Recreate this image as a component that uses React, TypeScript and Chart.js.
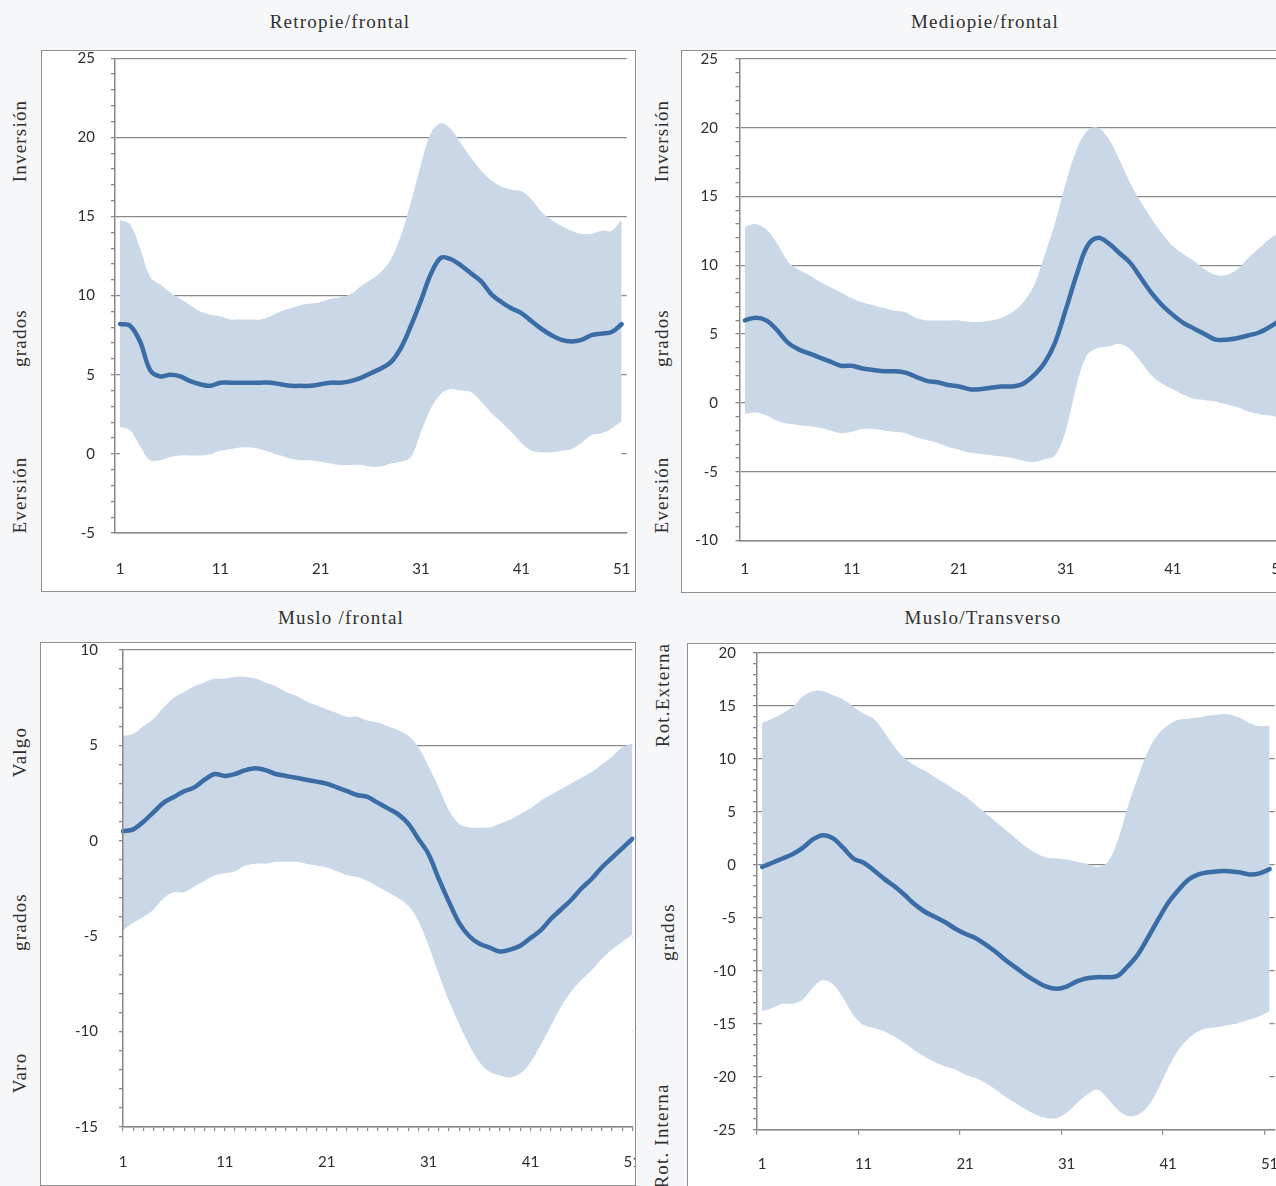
import React, { useEffect, useRef } from 'react';
import { Chart, registerables } from 'chart.js';

Chart.register(...registerables);

const categories = [
  '1', '2', '3', '4', '5', '6', '7', '8', '9', '10',
  '11', '12', '13', '14', '15', '16', '17', '18', '19', '20',
  '21', '22', '23', '24', '25', '26', '27', '28', '29', '30',
  '31', '32', '33', '34', '35', '36', '37', '38', '39', '40',
  '41', '42', '43', '44', '45', '46', '47', '48', '49', '50', '51',
];

const retropieMean = [8.2, 8.1, 7.1, 5.3, 4.9, 5.0, 4.9, 4.6, 4.4, 4.3, 4.5, 4.5, 4.5, 4.5, 4.5, 4.5, 4.4, 4.3, 4.3, 4.3, 4.4, 4.5, 4.5, 4.6, 4.8, 5.1, 5.4, 5.8, 6.7, 8.1, 9.7, 11.4, 12.4, 12.3, 11.9, 11.4, 10.9, 10.1, 9.6, 9.2, 8.9, 8.4, 7.9, 7.5, 7.2, 7.1, 7.2, 7.5, 7.6, 7.7, 8.2];
const retropieUpper = [14.8, 14.5, 13.0, 11.2, 10.7, 10.2, 9.8, 9.4, 9.0, 8.8, 8.7, 8.5, 8.5, 8.5, 8.5, 8.7, 9.0, 9.2, 9.4, 9.5, 9.6, 9.8, 9.9, 10.1, 10.6, 11.0, 11.5, 12.3, 13.8, 15.9, 18.3, 20.3, 20.9, 20.5, 19.6, 18.7, 17.9, 17.3, 16.9, 16.7, 16.6, 16.1, 15.3, 14.8, 14.4, 14.1, 13.9, 13.9, 14.1, 14.1, 14.8];
const retropieLower = [1.7, 1.5, 0.5, -0.4, -0.4, -0.2, -0.1, -0.1, -0.1, 0.0, 0.2, 0.3, 0.4, 0.4, 0.3, 0.1, -0.1, -0.3, -0.4, -0.4, -0.5, -0.6, -0.7, -0.7, -0.7, -0.8, -0.8, -0.6, -0.5, -0.2, 1.4, 2.9, 3.8, 4.1, 4.0, 3.9, 3.3, 2.6, 2.0, 1.4, 0.7, 0.2, 0.1, 0.1, 0.2, 0.3, 0.7, 1.2, 1.3, 1.6, 2.1];

const mediopieMean = [6.0, 6.2, 6.0, 5.3, 4.4, 3.9, 3.6, 3.3, 3.0, 2.7, 2.7, 2.5, 2.4, 2.3, 2.3, 2.2, 1.9, 1.6, 1.5, 1.3, 1.2, 1.0, 1.0, 1.1, 1.2, 1.2, 1.4, 2.0, 2.9, 4.4, 6.8, 9.3, 11.4, 12.0, 11.6, 10.9, 10.2, 9.1, 8.0, 7.1, 6.4, 5.8, 5.4, 5.0, 4.6, 4.6, 4.7, 4.9, 5.1, 5.5, 6.0];
const mediopieUpper = [12.8, 13.0, 12.6, 11.6, 10.3, 9.7, 9.3, 8.8, 8.4, 8.0, 7.6, 7.3, 7.1, 6.9, 6.7, 6.6, 6.2, 6.0, 6.0, 6.0, 6.0, 5.9, 5.9, 6.0, 6.2, 6.6, 7.3, 8.5, 10.7, 13.1, 16.0, 18.4, 19.8, 20.0, 19.2, 17.7, 16.0, 14.6, 13.4, 12.3, 11.4, 10.8, 10.3, 9.7, 9.3, 9.3, 9.7, 10.5, 11.2, 11.9, 12.4];
const mediopieLower = [-0.8, -0.7, -0.9, -1.3, -1.5, -1.6, -1.7, -1.8, -2.0, -2.2, -2.1, -1.9, -1.9, -2.0, -2.1, -2.2, -2.5, -2.7, -2.9, -3.2, -3.4, -3.6, -3.7, -3.8, -3.9, -4.0, -4.2, -4.3, -4.1, -3.8, -2.0, 1.3, 3.5, 4.0, 4.1, 4.3, 3.9, 3.0, 2.0, 1.4, 1.0, 0.6, 0.3, 0.2, 0.1, -0.1, -0.3, -0.6, -0.8, -0.9, -1.1];

const musloFrontalMean = [0.5, 0.6, 1.0, 1.5, 2.0, 2.3, 2.6, 2.8, 3.2, 3.5, 3.4, 3.5, 3.7, 3.8, 3.7, 3.5, 3.4, 3.3, 3.2, 3.1, 3.0, 2.8, 2.6, 2.4, 2.3, 2.0, 1.7, 1.4, 0.9, 0.1, -0.7, -2.0, -3.2, -4.3, -5.0, -5.4, -5.6, -5.8, -5.7, -5.5, -5.1, -4.7, -4.1, -3.6, -3.1, -2.5, -2.0, -1.4, -0.9, -0.4, 0.1];
const musloFrontalUpper = [5.5, 5.6, 6.0, 6.4, 7.0, 7.5, 7.8, 8.1, 8.3, 8.5, 8.5, 8.6, 8.6, 8.5, 8.3, 8.1, 7.8, 7.6, 7.3, 7.1, 6.9, 6.7, 6.5, 6.5, 6.3, 6.2, 6.0, 5.8, 5.5, 4.9, 3.9, 2.8, 1.6, 0.9, 0.7, 0.7, 0.7, 0.9, 1.1, 1.4, 1.7, 2.1, 2.4, 2.7, 3.0, 3.3, 3.6, 4.0, 4.4, 4.9, 5.1];
const musloFrontalLower = [-4.7, -4.3, -4.0, -3.6, -3.0, -2.7, -2.7, -2.4, -2.1, -1.8, -1.7, -1.6, -1.3, -1.2, -1.2, -1.1, -1.1, -1.1, -1.2, -1.3, -1.4, -1.6, -1.8, -1.9, -2.1, -2.4, -2.7, -3.0, -3.4, -4.2, -5.5, -7.0, -8.4, -9.6, -10.7, -11.6, -12.1, -12.3, -12.4, -12.2, -11.6, -10.7, -9.7, -8.7, -7.9, -7.3, -6.8, -6.2, -5.7, -5.3, -4.9];

const musloTransMean = [-0.2, 0.2, 0.6, 1.0, 1.6, 2.4, 2.8, 2.5, 1.6, 0.6, 0.2, -0.5, -1.3, -2.0, -2.8, -3.7, -4.4, -4.9, -5.4, -6.0, -6.5, -6.9, -7.5, -8.2, -9.0, -9.7, -10.4, -11.0, -11.5, -11.7, -11.5, -11.0, -10.7, -10.6, -10.6, -10.5, -9.6, -8.5, -6.9, -5.2, -3.6, -2.4, -1.4, -0.9, -0.7, -0.6, -0.6, -0.7, -0.9, -0.8, -0.4];
const musloTransUpper = [13.4, 13.8, 14.3, 14.9, 15.9, 16.4, 16.4, 16.0, 15.6, 14.9, 14.3, 13.8, 12.6, 11.2, 10.1, 9.4, 8.9, 8.3, 7.7, 7.1, 6.5, 5.7, 4.9, 4.1, 3.3, 2.5, 1.7, 1.1, 0.7, 0.6, 0.5, 0.3, 0.1, -0.2, 0.2, 2.2, 5.4, 8.2, 10.7, 12.3, 13.2, 13.7, 13.8, 13.9, 14.1, 14.2, 14.2, 13.9, 13.4, 13.1, 13.1];
const musloTransLower = [-13.8, -13.5, -13.1, -13.1, -12.7, -11.6, -10.9, -11.3, -12.6, -14.2, -15.1, -15.4, -15.7, -16.2, -16.8, -17.5, -18.1, -18.6, -19.0, -19.3, -19.8, -20.1, -20.6, -21.2, -21.9, -22.5, -23.1, -23.6, -23.9, -23.9, -23.4, -22.5, -21.7, -21.2, -22.0, -23.1, -23.7, -23.6, -22.8, -21.2, -19.2, -17.5, -16.4, -15.7, -15.4, -15.3, -15.1, -14.9, -14.6, -14.3, -13.8];

const LINE = '#3a6da5';
const BAND = '#c9d7e7';
const GRID = '#8a8a8a';
const AXIS = '#888888';
const TICK = '#2e2e2e';
const SERIF = '"Liberation Serif", "Times New Roman", serif';

type PanelProps = {
  boxLeft: number; boxTop: number; boxW: number; boxH: number;
  canvasW: number; canvasH: number;
  yAxisW: number; xAxisH: number; padTop: number; padRight: number;
  yMin: number; yMax: number; offset: boolean;
  yPad: number; xPad: number; xTickLen: number;
  xTicks: 'none' | 'all' | 'major';
  whiteFill: any;
  mean: number[]; upper: number[]; lower: number[];
};

function Panel(p: PanelProps) {
  const ref = useRef<HTMLCanvasElement>(null);
  useEffect(() => {
    const el = ref.current;
    if (!el) return;
    const chart = new Chart(el, {
      type: 'line',
      data: {
        labels: categories,
        datasets: [
          {
            data: p.mean, borderColor: LINE, borderWidth: 4.5, pointRadius: 0,
            fill: false, tension: 0.35, borderCapStyle: 'round', borderJoinStyle: 'round',
          },
          {
            data: p.upper, borderColor: 'rgba(0,0,0,0)', borderWidth: 0, pointRadius: 0,
            fill: '+1', backgroundColor: BAND, tension: 0.35,
          },
          {
            data: p.lower, borderColor: 'rgba(0,0,0,0)', borderWidth: 0, pointRadius: 0,
            fill: p.whiteFill, backgroundColor: '#ffffff', tension: 0.35,
          },
        ],
      },
      options: {
        responsive: false,
        animation: false,
        events: [],
        layout: { padding: { top: p.padTop, right: p.padRight, left: 0, bottom: 0 } },
        plugins: {
          legend: { display: false },
          tooltip: { enabled: false },
          filler: { propagate: false },
        },
        scales: {
          x: {
            type: 'category',
            offset: p.offset,
            grid: {
              offset: p.offset,
              drawOnChartArea: false,
              drawTicks: true,
              tickLength: p.xTickLen,
              color: 'rgba(0,0,0,0)',
              lineWidth: 1.2,
              tickColor: (c: any) => {
                if (p.xTicks === 'all') return AXIS;
                if (p.xTicks === 'major') return c.index % 10 === 0 ? AXIS : 'rgba(0,0,0,0)';
                return 'rgba(0,0,0,0)';
              },
            },
            border: { display: true, color: AXIS, width: 1.5, z: 1 },
            ticks: {
              autoSkip: false, maxRotation: 0, minRotation: 0,
              padding: p.xPad, color: TICK,
              font: { family: 'Lato', size: 15 },
              callback: (_v: any, i: number) => (i % 10 === 0 ? categories[i] : ''),
            },
            afterFit: (s: any) => {
              s.height = p.xAxisH; s.paddingLeft = 0; s.paddingRight = 0;
            },
          },
          y: {
            type: 'linear',
            min: p.yMin, max: p.yMax,
            grid: {
              color: (c: any) => (c.tick && Math.abs(c.tick.value % 5) < 1e-9 ? GRID : 'rgba(0,0,0,0)'),
              tickColor: AXIS,
              tickLength: 4,
              lineWidth: 1.3,
            },
            border: { display: true, color: AXIS, width: 1.5, z: 1 },
            ticks: {
              stepSize: 1, autoSkip: false, padding: p.yPad, color: TICK,
              font: { family: 'Lato', size: 15 },
              callback: (v: any) => (Math.abs(Number(v) % 5) < 1e-9 ? String(v) : ''),
            },
            afterFit: (s: any) => {
              s.width = p.yAxisW; s.paddingTop = 0; s.paddingBottom = 0;
            },
          },
        },
      } as any,
    });
    return () => chart.destroy();
  }, []);

  return (
    <div
      style={{
        position: 'absolute', left: p.boxLeft, top: p.boxTop, width: p.boxW, height: p.boxH,
        boxSizing: 'border-box', border: '1px solid #8f8f8f', background: '#ffffff', overflow: 'hidden',
      }}
    >
      <canvas ref={ref} width={p.canvasW} height={p.canvasH} style={{ display: 'block', width: p.canvasW, height: p.canvasH }} />
    </div>
  );
}

function Label({ text, x, y, rotate }: { text: string; x: number; y: number; rotate?: boolean }) {
  return (
    <div
      style={{
        position: 'absolute', left: x, top: y, whiteSpace: 'nowrap',
        transform: `translate(-50%, -50%)${rotate ? ' rotate(-90deg)' : ''}`,
        fontFamily: SERIF, fontSize: 19, letterSpacing: '1.2px', color: '#2f2f2f', lineHeight: '22px',
      }}
    >
      {text}
    </div>
  );
}

export default function App() {
  return (
    <div
      style={{
        position: 'absolute', left: 0, top: 0, width: 1276, height: 1186,
        overflow: 'hidden', background: '#f6f7f8',
      }}
    >
      <Label text="Retropie/frontal" x={340} y={22} />
      <Label text="Mediopie/frontal" x={985} y={22} />
      <Label text="Muslo /frontal" x={341} y={618} />
      <Label text="Muslo/Transverso" x={983} y={618} />

      <Label text="Inversión" x={20} y={141} rotate />
      <Label text="grados" x={20} y={338} rotate />
      <Label text="Eversión" x={20} y={495} rotate />

      <Label text="Inversión" x={662} y={141} rotate />
      <Label text="grados" x={662} y={338} rotate />
      <Label text="Eversión" x={662} y={495} rotate />

      <Label text="Valgo" x={20} y={752} rotate />
      <Label text="grados" x={20} y={922} rotate />
      <Label text="Varo" x={20} y={1073} rotate />

      <Label text="Rot.Externa" x={663} y={695} rotate />
      <Label text="grados" x={668} y={932} rotate />
      <Label text="Rot. Interna" x={662} y={1136} rotate />

      <Panel
        boxLeft={41} boxTop={50} boxW={595} boxH={542} canvasW={593} canvasH={540}
        yAxisW={73} xAxisH={58} padTop={7.3} padRight={8.3}
        yMin={-5} yMax={25} offset={true} yPad={16} xPad={23} xTickLen={4} xTicks="none"
        whiteFill="start" mean={retropieMean} upper={retropieUpper} lower={retropieLower}
      />
      <Panel
        boxLeft={681} boxTop={50} boxW={611} boxH={543} canvasW={609} canvasH={541}
        yAxisW={57.5} xAxisH={51.5} padTop={8} padRight={5.8}
        yMin={-10} yMax={25} offset={true} yPad={17.5} xPad={16} xTickLen={4} xTicks="none"
        whiteFill={{ value: -0.2 }} mean={mediopieMean} upper={mediopieUpper} lower={mediopieLower}
      />
      <Panel
        boxLeft={40} boxTop={642} boxW={596} boxH={544} canvasW={594} canvasH={542}
        yAxisW={82} xAxisH={58} padTop={7} padRight={2.7}
        yMin={-15} yMax={10} offset={false} yPad={21} xPad={22} xTickLen={4} xTicks="all"
        whiteFill="start" mean={musloFrontalMean} upper={musloFrontalUpper} lower={musloFrontalLower}
      />
      <Panel
        boxLeft={687} boxTop={643} boxW={604} boxH={562} canvasW={602} canvasH={560}
        yAxisW={69} xAxisH={74.3} padTop={9} padRight={15.3}
        yMin={-25} yMax={20} offset={true} yPad={17} xPad={20} xTickLen={5} xTicks="major"
        whiteFill="start" mean={musloTransMean} upper={musloTransUpper} lower={musloTransLower}
      />
    </div>
  );
}
